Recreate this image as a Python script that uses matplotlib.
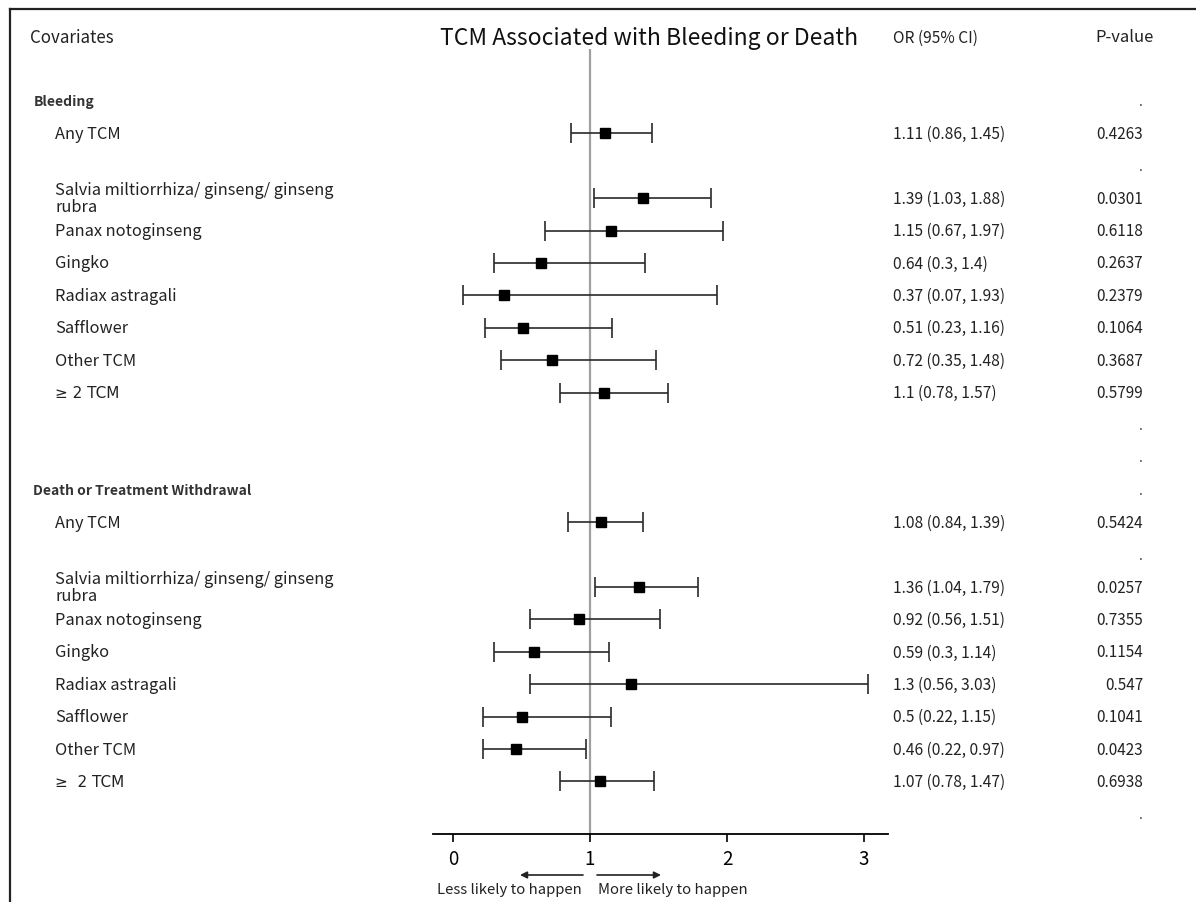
import matplotlib.pyplot as plt
from matplotlib.lines import Line2D
from matplotlib.transforms import blended_transform_factory

plt.rcParams['font.family'] = ['Noto Sans CJK KR', 'DejaVu Sans']

# ---- data ----
sections = ['Bleeding', 'Death or Treatment Withdrawal']
covariates = ['Any TCM',
              'Salvia miltiorrhiza/ ginseng/ ginseng\nrubra',
              'Panax notoginseng', 'Gingko', 'Radiax astragali',
              'Safflower', 'Other TCM', '≥ 2 TCM']
covariates_death = covariates[:-1] + ['≥  2 TCM']

bleed_or = [1.11, 1.39, 1.15, 0.64, 0.37, 0.51, 0.72, 1.1]
bleed_lo = [0.86, 1.03, 0.67, 0.3, 0.07, 0.23, 0.35, 0.78]
bleed_hi = [1.45, 1.88, 1.97, 1.4, 1.93, 1.16, 1.48, 1.57]
bleed_p = ['0.4263', '0.0301', '0.6118', '0.2637', '0.2379', '0.1064', '0.3687', '0.5799']

death_or = [1.08, 1.36, 0.92, 0.59, 1.3, 0.5, 0.46, 1.07]
death_lo = [0.84, 1.04, 0.56, 0.3, 0.56, 0.22, 0.22, 0.78]
death_hi = [1.39, 1.79, 1.51, 1.14, 3.03, 1.15, 0.97, 1.47]
death_p = ['0.5424', '0.0257', '0.7355', '0.1154', '0.547', '0.1041', '0.0423', '0.6938']

# row layout: header, Any TCM, blank, 7 items ... then trailing blanks
section_start = [0, 12]
blank_rows = [10, 11, 22]


def item_rows(start):
    return [start + 1] + [start + 3 + i for i in range(7)]


fig = plt.figure(figsize=(11.96, 9.03), dpi=100)
ax = fig.add_axes([433 / 1196, 1 - 835 / 903, 455 / 1196, 785 / 903])
ax.set_xlim(-0.146, 3.175)
ax.set_ylim(22.62, -1.6)

ax.axvline(1, color='#a0a0a0', lw=1.6, zorder=1)

tr = blended_transform_factory(fig.transFigure, ax.transData)

data = [(covariates, bleed_or, bleed_lo, bleed_hi, bleed_p),
        (covariates_death, death_or, death_lo, death_hi, death_p)]

for sec, start, (labels, ors, los, his, ps) in zip(sections, section_start, data):
    rows = item_rows(start)
    ax.errorbar(ors, rows, xerr=[[o - l for o, l in zip(ors, los)],
                                 [h - o for o, h in zip(ors, his)]],
                fmt='s', color='black', ms=7, ecolor='#2a2a2a',
                elinewidth=1.2, capsize=7, capthick=1.2, zorder=3)
    ax.text(0.028, start, sec, transform=tr, fontsize=10, fontweight='bold',
            va='center', ha='left', color='#333333')
    ax.text(0.9557, start, '.', transform=tr, fontsize=10, va='center',
            ha='right', color='#444444')
    ax.text(0.9557, start + 2, '.', transform=tr, fontsize=10, va='center',
            ha='right', color='#444444')
    for r, lab, o, l, h, p in zip(rows, labels, ors, los, his, ps):
        if lab.startswith('≥'):
            ax.text(0.046, r, lab, transform=tr, fontsize=11, va='center',
                    ha='left', color='#222222', family=['DejaVu Sans'])
        else:
            ax.text(0.046, r, lab, transform=tr, fontsize=11.8, va='center',
                    ha='left', color='#222222', linespacing=0.95)
        ax.text(0.7467, r, f'{o:g} ({l:g}, {h:g})', transform=tr, fontsize=11.2,
                va='center', ha='left', color='#222222')
        ax.text(0.9557, r, p, transform=tr, fontsize=11, va='center',
                ha='right', color='#222222')

for r in blank_rows:
    ax.text(0.9557, r, '.', transform=tr, fontsize=10, va='center',
            ha='right', color='#444444')

# headers
fig.text(0.0251, 1 - 38 / 903, 'Covariates', fontsize=12.2, va='center', color='#222222')
fig.text(649 / 1196, 1 - 38 / 903, 'TCM Associated with Bleeding or Death',
         fontsize=16.5, va='center', ha='center', color='#111111')
fig.text(0.7467, 1 - 38 / 903, 'OR (95% CI)', fontsize=11.2, va='center', color='#222222')
fig.text(1095 / 1196, 1 - 38 / 903, 'P-value', fontsize=12, va='center', color='#222222')

# axis
for s in ['top', 'right', 'left']:
    ax.spines[s].set_visible(False)
ax.spines['bottom'].set_linewidth(1.3)
ax.set_yticks([])
ax.set_xticks([0, 1, 2, 3])
ax.tick_params(axis='x', direction='out', length=6, width=1.2, labelsize=13.5, pad=4)

# direction arrows
tr2 = blended_transform_factory(ax.transData, fig.transFigure)
ay = 1 - 876 / 903
ax.annotate('', xy=(0.489, ay), xytext=(0.949, ay), xycoords=tr2, textcoords=tr2,
            arrowprops=dict(arrowstyle='-|>', color='#222222', lw=1.2,
                            mutation_scale=10, shrinkA=0, shrinkB=0))
ax.annotate('', xy=(1.518, ay), xytext=(1.051, ay), xycoords=tr2, textcoords=tr2,
            arrowprops=dict(arrowstyle='-|>', color='#222222', lw=1.2,
                            mutation_scale=10, shrinkA=0, shrinkB=0))
ly = 1 - 890 / 903
ax.text(0.942, ly, 'Less likely to happen', transform=tr2, fontsize=10.7,
        ha='right', va='center', color='#222222')
ax.text(1.058, ly, 'More likely to happen', transform=tr2, fontsize=10.7,
        ha='left', va='center', color='#222222')

# frame lines (left and top)
fig.add_artist(Line2D([10 / 1196, 10 / 1196], [0, 1 - 10 / 903],
                      transform=fig.transFigure, color='#222222', lw=1.6))
fig.add_artist(Line2D([10 / 1196, 1], [1 - 10 / 903, 1 - 10 / 903],
                      transform=fig.transFigure, color='#222222', lw=1.6))

fig.savefig('out.png', dpi=100)
